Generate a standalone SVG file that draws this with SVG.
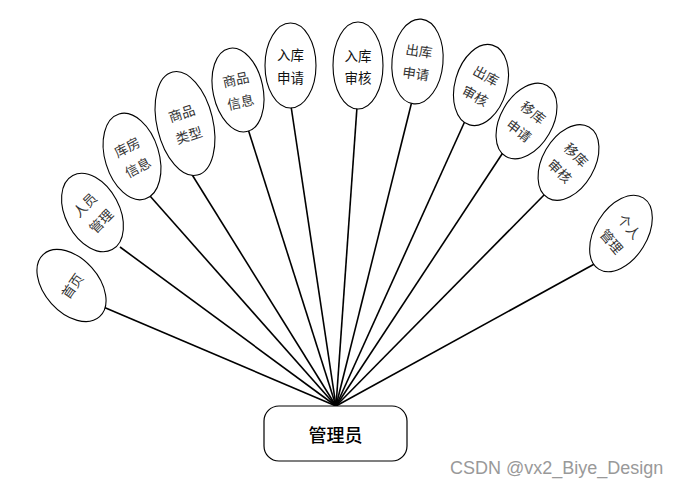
<svg xmlns="http://www.w3.org/2000/svg" width="682" height="488" viewBox="0 0 682 488">
<style>
.e{fill:#fff;stroke:#000;stroke-width:1.1}
.t{font-family:"Noto Sans CJK SC","Noto Sans",sans-serif;font-size:13.5px;fill:#333;text-anchor:middle;dominant-baseline:central}
.d{fill:#111}
.c line{stroke:#000;stroke-width:1.6}
</style>
<rect width="682" height="488" fill="#fff"/>
<g class="c" id="connectors">
<line x1="336" y1="406" x2="101" y2="306"/>
<line x1="336" y1="406" x2="120" y2="247"/>
<line x1="336" y1="406" x2="150" y2="196"/>
<line x1="336" y1="406" x2="191" y2="173"/>
<line x1="336" y1="406" x2="248" y2="129"/>
<line x1="336" y1="406" x2="291" y2="106"/>
<line x1="336" y1="406" x2="357" y2="107"/>
<line x1="336" y1="406" x2="412" y2="101"/>
<line x1="336" y1="406" x2="465" y2="121"/>
<line x1="336" y1="406" x2="504" y2="151"/>
<line x1="336" y1="406" x2="546" y2="193"/>
<line x1="336" y1="406" x2="598" y2="262"/>
</g>
<g id="n-shouye" transform="translate(71.5,285.5)"><ellipse class="e" rx="27" ry="42" transform="rotate(-42)"/><text class="t" transform="rotate(-55)" x="0" y="0">首页</text></g>
<g id="n-renyuan" transform="translate(92.5,212.5)"><ellipse class="e" rx="27" ry="42" transform="rotate(-28)"/><text class="t" transform="rotate(-45)"><tspan x="0" y="-11.5">人员</tspan><tspan x="0" y="11.5">管理</tspan></text></g>
<g id="n-kufang" transform="translate(132,156.5)"><ellipse class="e" rx="27" ry="44.5" transform="rotate(-17)"/><text class="t" transform="rotate(-28)"><tspan x="0" y="-11.5">库房</tspan><tspan x="0" y="11.5">信息</tspan></text></g>
<g id="n-leixing" transform="translate(185,123.5)"><ellipse class="e" rx="28" ry="53" transform="rotate(-13.5)"/><text class="t" transform="rotate(-18)"><tspan x="0" y="-11.5">商品</tspan><tspan x="0" y="11.5">类型</tspan></text></g>
<g id="n-shangpin" transform="translate(238,90)"><ellipse class="e" rx="25" ry="42.5" transform="rotate(-12)"/><text class="t" transform="rotate(-12)"><tspan x="0" y="-11.5">商品</tspan><tspan x="0" y="11.5">信息</tspan></text></g>
<g id="n-rkshenqing" transform="translate(290.5,65.5)"><ellipse class="e" rx="25.5" ry="42.5"/><text class="t d"><tspan x="0" y="-12">入库</tspan><tspan x="0" y="11">申请</tspan></text></g>
<g id="n-rkshenhe" transform="translate(358,65.5)"><ellipse class="e" rx="25" ry="43.5"/><text class="t d"><tspan x="0" y="-11">入库</tspan><tspan x="0" y="11.5">审核</tspan></text></g>
<g id="n-ckshenqing" transform="translate(417.5,61.5)"><ellipse class="e" rx="25.5" ry="42.5" transform="rotate(5)"/><text class="t" transform="rotate(8)"><tspan x="0" y="-11.5">出库</tspan><tspan x="0" y="11.5">申请</tspan></text></g>
<g id="n-ckshenhe" transform="translate(481,85)"><ellipse class="e" rx="26" ry="41.5" transform="rotate(16)"/><text class="t" transform="rotate(28)"><tspan x="0" y="-11.5">出库</tspan><tspan x="0" y="11.5">审核</tspan></text></g>
<g id="n-ykshenqing" transform="translate(526.5,121)"><ellipse class="e" rx="26" ry="41" transform="rotate(30)"/><text class="t" transform="rotate(38)"><tspan x="0" y="-11.5">移库</tspan><tspan x="0" y="11.5">申请</tspan></text></g>
<g id="n-ykshenhe" transform="translate(568.5,162.5)"><ellipse class="e" rx="26" ry="41" transform="rotate(30)"/><text class="t" transform="rotate(45)"><tspan x="0" y="-11.5">移库</tspan><tspan x="0" y="11.5">审核</tspan></text></g>
<g id="n-geren" transform="translate(621,233.5)"><ellipse class="e" rx="26" ry="42" transform="rotate(32)"/><text class="t" transform="rotate(50)"><tspan x="0" y="-11.5">个人</tspan><tspan x="0" y="11.5">管理</tspan></text></g>
<g id="n-admin"><rect x="264" y="406" width="143" height="55" rx="15" ry="15" fill="#fff" stroke="#000" stroke-width="1.2"/><text x="335.5" y="433.5" font-family="'Noto Sans CJK SC','Noto Sans',sans-serif" font-size="18" font-weight="500" fill="#000" text-anchor="middle" dominant-baseline="central">管理员</text></g>
<text x="450" y="474" font-family="'Liberation Sans',Arial,sans-serif" font-size="18" fill="#999">CSDN @vx2_Biye_Design</text>
</svg>
